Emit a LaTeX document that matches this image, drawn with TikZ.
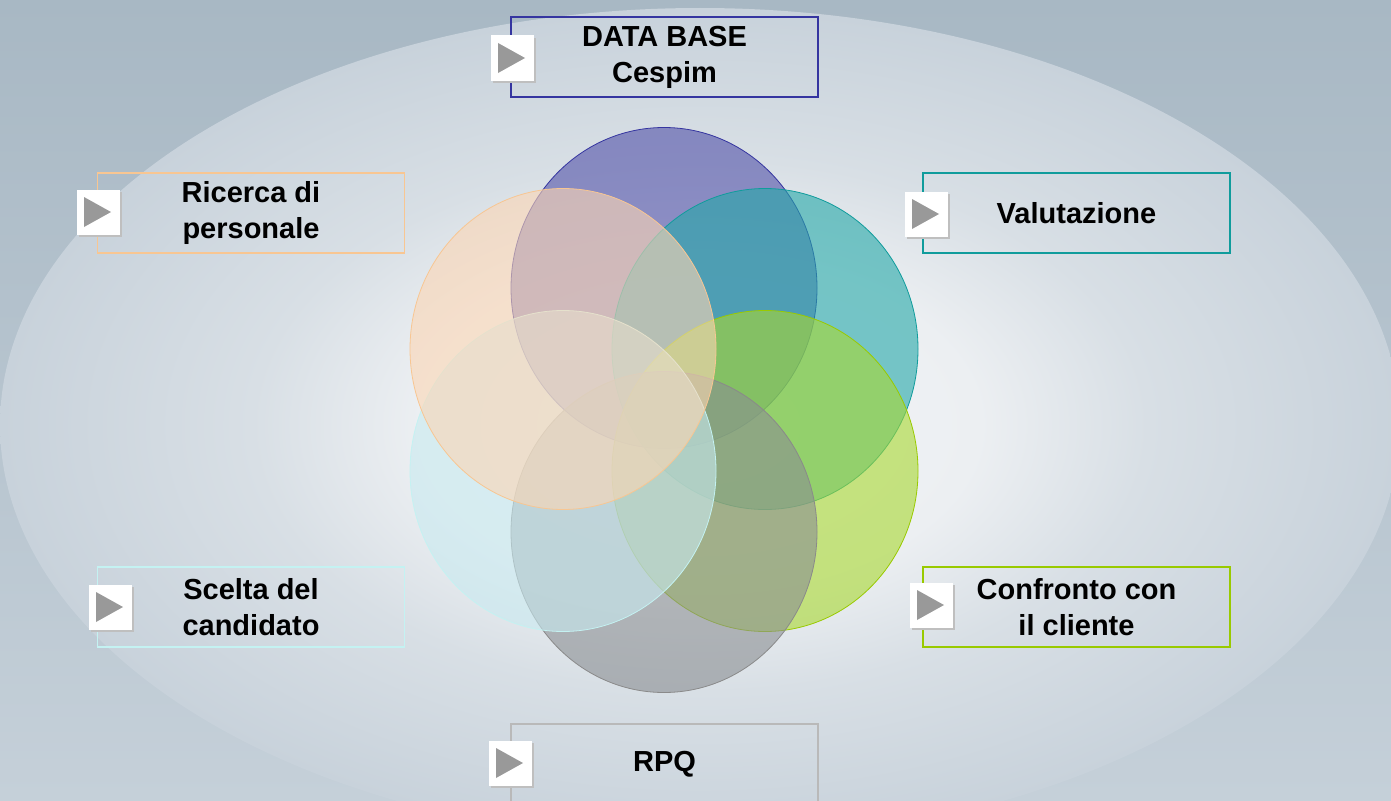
\documentclass[tikz,border=0pt]{standalone}
\usepackage{fontspec}
\setmainfont{Liberation Sans}
\usetikzlibrary{shapes.geometric,shadows}
\definecolor{backtop}{HTML}{A8B8C4}
\definecolor{backbottom}{HTML}{C5D0D9}
\definecolor{glowin}{HTML}{F3F5F7}
\definecolor{glowmid}{HTML}{ECEFF2}
\definecolor{glowfar}{HTML}{D8DFE5}
\definecolor{glowout}{HTML}{C8D2DB}
\pgfdeclareradialshading{glow}{\pgfpoint{0bp}{0bp}}{color(0bp)=(glowin); color(10bp)=(glowmid); color(16bp)=(glowfar); color(25bp)=(glowout); color(50bp)=(glowout)}
\definecolor{dbfill}{HTML}{5050A8}
\definecolor{dbline}{HTML}{3535A0}
\definecolor{valfill}{HTML}{24A8A8}
\definecolor{valline}{HTML}{109C9C}
\definecolor{conffill}{HTML}{A8D830}
\definecolor{confline}{HTML}{99CA00}
\definecolor{rpqfill}{HTML}{8A8E92}
\definecolor{rpqline}{HTML}{8A8A8A}
\definecolor{sceltafill}{HTML}{C8EAF0}
\definecolor{sceltaline}{HTML}{C4F2F2}
\definecolor{ricfill}{HTML}{FCD6B4}
\definecolor{ricline}{HTML}{F8C692}
\begin{document}
\begin{tikzpicture}[x=1pt, y=-1pt,
	petal/.style={ellipse, inner sep=0pt, minimum width=306pt, minimum height=321pt, line width=0.8pt, fill opacity=0.6},
	stage/.style={draw, line width=1.6pt, minimum width=307pt, minimum height=80pt, align=center, font=\fontsize{29}{36}\selectfont\bfseries},
	playbtn/.style={fill=white, minimum width=43pt, minimum height=45pt, inner sep=0pt,
		general shadow={fill=black!25, shadow xshift=2.5pt, shadow yshift=-2.5pt},
		path picture={\fill[black!40] (path picture bounding box.center) ++(-14,-15) -- ++(27,15) -- ++(-27,15) -- cycle;}}
	]
	
	\useasboundingbox (0,0) rectangle (1391,800);
	\clip (0,0) rectangle (1391,800);
	\shade[top color=backtop, bottom color=backbottom] (0,0) rectangle (1391,800);
	\shade[shading=glow] (700,425) ellipse [x radius=700pt, y radius=417pt];
	
	% the six circles
	\node[petal, draw=dbline, fill=dbfill] (cdatabase) at (664,288) {};
	\node[petal, draw=valline, fill=valfill] (cvalutazione) at (765,349) {};
	\node[petal, draw=confline, fill=conffill] (cconfronto) at (765,471) {};
	\node[petal, draw=rpqline, fill=rpqfill] (crpq) at (664,532) {};
	\node[petal, draw=sceltaline, fill=sceltafill] (cscelta) at (563,471) {};
	\node[petal, draw=ricline, fill=ricfill] (cricerca) at (563,349) {};
	
	% the labels
	\node[stage, draw=dbline] (database) at (664.5,57) {DATA BASE\\Cespim};
	\node[stage, draw=ricline] (ricerca) at (251,213) {Ricerca di\\personale};
	\node[stage, draw=valline] (valutazione) at (1076.5,213) {Valutazione};
	\node[stage, draw=sceltaline] (scelta) at (251,607) {Scelta del\\candidato};
	\node[stage, draw=confline] (confronto) at (1076.5,607) {Confronto con\\il cliente};
	\node[stage, draw=rpqline!60] (rpq) at (664.5,764) {RPQ};
	
	\node[playbtn] (databasebtn) at (512,58) {};
	\node[playbtn] (ricercabtn) at (98,212) {};
	\node[playbtn] (valutazionebtn) at (926,214) {};
	\node[playbtn] (sceltabtn) at (110,607) {};
	\node[playbtn] (confrontobtn) at (931,605) {};
	\node[playbtn] (rpqbtn) at (510,763) {};
\end{tikzpicture}
\end{document}
